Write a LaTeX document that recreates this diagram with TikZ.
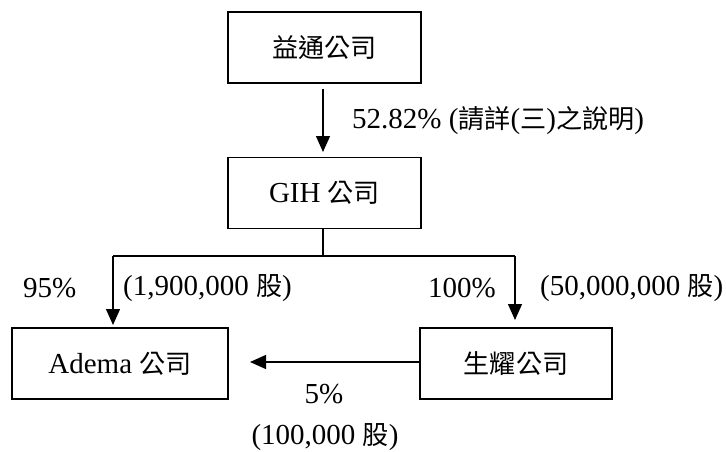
\documentclass[tikz,border=0pt]{standalone}
\usepackage{fontspec}
\setmainfont{Liberation Serif}
\newfontfamily\cjk[Scale=0.9]{Noto Sans CJK TC}
\usetikzlibrary{arrows.meta}
\begin{document}
\begin{tikzpicture}[x=1pt,y=-1pt,
  every node/.style={font=\fontsize{29}{34}\selectfont},
  company/.style={draw,line width=1.5pt,minimum height=71pt,inner sep=0pt},
  lbl/.style={inner sep=0pt},
  link/.style={line width=1.4pt},
  arr/.style={line width=1.4pt,-{Triangle[length=16pt,width=14pt]}}]
\useasboundingbox (0,0) rectangle (726,452);
% boxes
\node[company,minimum width=193pt] (yt) at (324.5,47.5) {{\cjk 益通公司}};
\node[company,minimum width=193pt] (gih) at (324.5,193) {GIH {\cjk 公司}};
\node[company,minimum width=216pt] (ad) at (120,363.5) {Adema {\cjk 公司}};
\node[company,minimum width=192pt] (sy) at (516,363.5) {{\cjk 生耀公司}};
% connectors
\coordinate (a1s) at (323,89);
\coordinate (a1e) at (323,152);
\draw[arr] (a1s) -- (a1e);
\coordinate (j) at (323,256);
\coordinate (jl) at (113,256);
\coordinate (jr) at (515,256);
\coordinate (tl) at (113,325);
\coordinate (tr) at (515,320);
\draw[link] (gih.south -| j) -- (j);
\draw[link] (jl) -- (jr);
\draw[arr] (jl) -- (tl);
\draw[arr] (jr) -- (tr);
\coordinate (t5) at (250,362);
\draw[arr] (sy.west |- t5) -- (t5);
% labels
\node[lbl,anchor=west] (l1) at (352,121) {52.82\% ({\cjk 請詳}({\cjk 三}){\cjk 之說明})};
\node[lbl,anchor=west] (l95) at (23,288) {95\%};
\node[lbl,anchor=west] (l19) at (123,288) {(1,900,000 {\cjk 股})};
\node[lbl,anchor=west] (l100) at (428,288) {100\%};
\node[lbl,anchor=west] (l50) at (540,288) {(50,000,000 {\cjk 股})};
\node[lbl] (l5) at (324,394) {5\%};
\node[lbl] (l10) at (325,437) {(100,000 {\cjk 股})};
\end{tikzpicture}
\end{document}
